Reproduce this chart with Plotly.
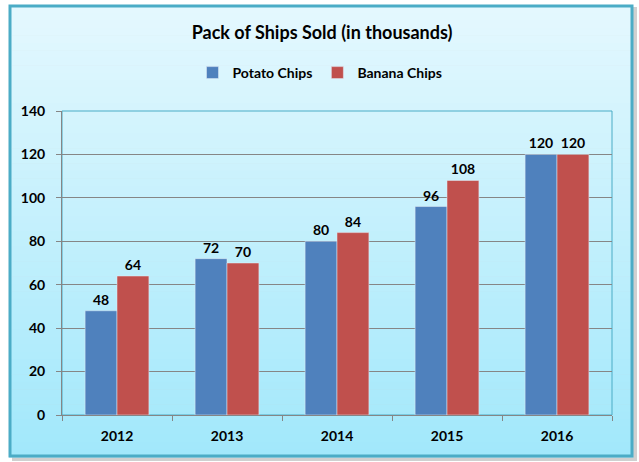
import plotly.graph_objects as go

# datos del gráfico
anios = ['2012', '2013', '2014', '2015', '2016']
potato = [48, 72, 80, 96, 120]
banana = [64, 70, 84, 108, 120]

W, H = 639, 462
ml, mr, mt, mb = 62, 27, 111, 47
pw, ph = W - ml - mr, H - mt - mb


### pasar pixeles a coordenadas paper
def px(x):
    return (x - ml) / pw


def py(y):
    return (H - mb - y) / ph


def mezcla(c1, c2, t):
    return 'rgb(%d,%d,%d)' % tuple(round(a + (b - a) * t) for a, b in zip(c1, c2))


fig = go.Figure()
fig.add_trace(go.Bar(x=anios, y=potato, name='Potato Chips', marker_color='#4f81bd',
                     text=potato, textposition='outside', cliponaxis=False))
fig.add_trace(go.Bar(x=anios, y=banana, name='Banana Chips', marker_color='#c0504d',
                     text=banana, textposition='outside', cliponaxis=False))

shapes = []
# sombra del marco
shapes.append(dict(type='rect', xref='paper', yref='paper', layer='below',
                   x0=px(12), x1=px(637), y0=py(461), y1=py(7),
                   fillcolor='#d0d0d0', line_width=0))
# degradado de fondo
arriba, abajo = (228, 248, 254), (162, 232, 251)
y_top, y_bot = 5, 457
n = 60
for i in range(n):
    a = y_top + (y_bot - y_top) * i / n
    b = y_top + (y_bot - y_top) * (i + 1) / n + 0.6
    shapes.append(dict(type='rect', xref='paper', yref='paper', layer='below',
                       x0=px(9), x1=px(633), y0=py(b), y1=py(a),
                       fillcolor=mezcla(arriba, abajo, i / (n - 1)), line_width=0))
# marco exterior
shapes.append(dict(type='rect', xref='paper', yref='paper', layer='below',
                   x0=px(10), x1=px(632), y0=py(456), y1=py(6),
                   line=dict(color='#4bacc6', width=3)))
# borde del area de grafico
shapes.append(dict(type='rect', xref='paper', yref='paper', layer='below',
                   x0=0, x1=1, y0=0, y1=1, line=dict(color='#4bacc6', width=1)))

fig.update_traces(textfont=dict(family='Lato', size=14, color='black', weight='bold'))

fig.update_layout(
    width=W, height=H,
    margin=dict(l=ml, r=mr, t=mt, b=mb),
    paper_bgcolor='white', plot_bgcolor='rgba(0,0,0,0)',
    font=dict(family='Lato', size=13, color='black', weight='bold'),
    title=dict(text='<b>Pack of Ships Sold (in thousands)</b>', x=0.504, xanchor='center',
               y=1 - 33 / H, yanchor='middle', font=dict(size=18, family='Lato')),
    legend=dict(orientation='h', x=px(320), xanchor='center', y=py(73), yanchor='middle',
                bgcolor='rgba(0,0,0,0)', font=dict(size=14), itemwidth=30, traceorder='normal'),
    barmode='group', bargap=0.42, bargroupgap=0,
    shapes=shapes,
    xaxis=dict(showline=True, linecolor='#868686', linewidth=1, ticks='outside',
               tickson='boundaries', ticklen=5, tickcolor='#868686',
               tickfont=dict(size=14), ticklabelstandoff=8),
    yaxis=dict(range=[0, 140], dtick=20, showline=True, linecolor='#868686', linewidth=1,
               gridcolor='#868686', gridwidth=1, ticks='outside', ticklen=5,
               tickcolor='#868686', zeroline=False, tickfont=dict(size=14),
               ticklabelstandoff=8),
)

# quitar el margen del body para que la figura quede en (0,0)
fig.write_html("out.html", config={'displayModeBar': False},
               post_script="document.body.style.margin='0';")
